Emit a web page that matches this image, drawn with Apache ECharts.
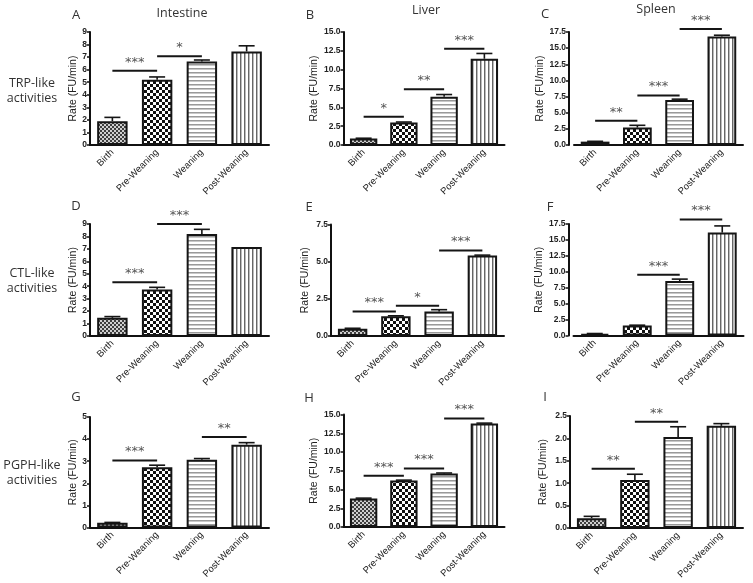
<!DOCTYPE html>
<html><head><meta charset="utf-8">
<script src="https://cdn.jsdelivr.net/npm/echarts@6/dist/echarts.min.js"></script>
<style>html,body{margin:0;padding:0;background:#fff}#c{width:753px;height:583px}</style>
</head><body><div id="c"></div>
<script>
// ---------- data ----------
const categories = ['Birth', 'Pre-Weaning', 'Weaning', 'Post-Weaning'];
const tissues = ['Intestine', 'Liver', 'Spleen'];
const activities = ['TRP-like\nactivities', 'CTL-like\nactivities', 'PGPH-like\nactivities'];
const panelLetters = ['A', 'B', 'C', 'D', 'E', 'F', 'G', 'H', 'I'];
const yAxisName = 'Rate (FU/min)';

// values (mean) and upward error (SEM) per panel
const valuesA = [1.9, 5.2, 6.65, 7.45];   const errorsA = [0.3, 0.22, 0.12, 0.45];
const valuesB = [0.85, 3.0, 6.4, 11.45];  const errorsB = [0.05, 0.05, 0.3, 0.7];
const valuesC = [0.52, 2.7, 6.95, 16.8];  const errorsC = [0.05, 0.35, 0.15, 0.2];
const valuesD = [1.46, 3.73, 8.2, 7.15];  const errorsD = [0.1, 0.18, 0.37, 0];
const valuesE = [0.49, 1.33, 1.64, 5.41]; const errorsE = [0.03, 0.03, 0.13, 0.03];
const valuesF = [0.26, 1.57, 8.55, 16.15]; const errorsF = [0.05, 0.05, 0.3, 1.05];
const valuesG = [0.21, 2.73, 3.06, 3.75]; const errorsG = [0.02, 0.09, 0.06, 0.09];
const valuesH = [3.8, 6.2, 7.15, 13.8];   const errorsH = [0.05, 0.05, 0.05, 0.05];
const valuesI = [0.22, 1.07, 2.03, 2.28]; const errorsI = [0.04, 0.13, 0.23, 0.05];

// significance brackets: [fromCategory, toCategory, height (axis units), label]
const sigA = [[0, 1, 5.91, '***'], [1, 2, 7.06, '*']];
const sigB = [[0, 1, 3.74, '*'], [1, 2, 7.39, '**'], [2, 3, 12.77, '***']];
const sigC = [[0, 1, 3.74, '**'], [1, 2, 7.68, '***'], [2, 3, 17.96, '***']];
const sigD = [[0, 1, 4.31, '***'], [1, 2, 9.0, '***']];
const sigE = [[0, 1, 1.64, '***'], [1, 2, 2.04, '*'], [2, 3, 5.75, '***']];
const sigF = [[1, 2, 9.54, '***'], [2, 3, 18.19, '***']];
const sigG = [[0, 1, 3.03, '***'], [2, 3, 4.09, '**']];
const sigH = [[0, 1, 6.84, '***'], [1, 2, 7.81, '***'], [2, 3, 14.47, '***']];
const sigI = [[0, 1, 1.32, '**'], [1, 2, 2.37, '**']];

// y-axis ranges (tick labels come from these)
const yMax      = [9, 15, 17.5, 9, 7.5, 17.5, 5, 15, 2.5];
const yInterval = [1, 2.5, 2.5, 1, 2.5, 2.5, 1, 2.5, 0.5];
const yDecimals = [0, 1, 1, 0, 1, 1, 0, 1, 1];

const panelValues = [valuesA, valuesB, valuesC, valuesD, valuesE, valuesF, valuesG, valuesH, valuesI];
const panelErrors = [errorsA, errorsB, errorsC, errorsD, errorsE, errorsF, errorsG, errorsH, errorsI];
const panelSig = [sigA, sigB, sigC, sigD, sigE, sigF, sigG, sigH, sigI];

// ---------- layout ----------
const layout = [
  {left: 90, top: 32, width: 179, height: 113, off: 0, gap: 11},
  {left: 343.5, top: 32, width: 161, height: 113, off: 0, gap: 21},
  {left: 574, top: 32, width: 169, height: 113, off: 5, gap: 20},
  {left: 90, top: 224, width: 179, height: 112, off: 0, gap: 11},
  {left: 331, top: 224.5, width: 173, height: 111.5, off: 0, gap: 20},
  {left: 573.5, top: 224, width: 170, height: 111.5, off: 5, gap: 20},
  {left: 90, top: 417, width: 179, height: 110.5, off: 0, gap: 11},
  {left: 343.5, top: 414.5, width: 161, height: 112.5, off: 0, gap: 21},
  {left: 570, top: 416, width: 173, height: 112, off: 0, gap: 21}
];

// ---------- patterns ----------
function tile(w, h, draw) {
  const c = document.createElement('canvas');
  c.width = w; c.height = h;
  const g = c.getContext('2d');
  draw(g);
  return {image: c, repeat: 'repeat'};
}
const patterns = [
  tile(4, 4, g => { g.fillStyle = '#3e3e3e'; g.fillRect(0, 0, 4, 4); g.fillStyle = '#cfcfcf'; g.fillRect(0, 0, 2, 2); g.fillRect(2, 2, 2, 2); }),
  tile(6, 6, g => { g.fillStyle = '#fff'; g.fillRect(0, 0, 6, 6); g.fillStyle = '#111'; g.fillRect(0, 0, 3, 3); g.fillRect(3, 3, 3, 3); }),
  tile(4, 4, g => { g.fillStyle = '#fff'; g.fillRect(0, 0, 4, 4); g.fillStyle = '#999'; g.fillRect(0, 0, 4, 1); g.fillStyle = '#c8c8c8'; g.fillRect(0, 1, 4, 1); }),
  tile(4, 4, g => { g.fillStyle = '#fff'; g.fillRect(0, 0, 4, 4); g.fillStyle = '#666'; g.fillRect(0, 0, 1, 4); g.fillStyle = '#bbb'; g.fillRect(1, 0, 1, 4); })
];

// ---------- option ----------
const grids = [], xAxes = [], yAxes = [], series = [];
panelValues.forEach((vals, i) => {
  const L = layout[i];
  grids.push({left: L.left, top: L.top, width: L.width, height: L.height});
  xAxes.push({
    type: 'category', gridIndex: i, data: categories,
    axisLine: {lineStyle: {color: '#111', width: 2}},
    axisTick: {alignWithLabel: true, length: 4, lineStyle: {color: '#111', width: 1.5}},
    axisLabel: {rotate: 45, interval: 0, fontSize: 9.5, color: '#222', margin: 6, fontFamily: 'Liberation Sans'}
  });
  yAxes.push({
    type: 'value', gridIndex: i, min: 0, max: yMax[i], interval: yInterval[i], offset: L.off,
    axisLine: {show: true, lineStyle: {color: '#111', width: 2}},
    axisTick: {show: true, length: 3, lineStyle: {color: '#111', width: 1.5}},
    splitLine: {show: false},
    axisLabel: {fontSize: 8.5, fontWeight: 'bold', color: '#222', margin: 3, fontFamily: 'Liberation Sans',
      formatter: v => v.toFixed(yDecimals[i])},
    name: yAxisName, nameLocation: 'middle', nameGap: L.gap,
    nameTextStyle: {fontSize: 10.5, color: '#222', fontFamily: 'Liberation Sans'}
  });
  series.push({
    type: 'bar', xAxisIndex: i, yAxisIndex: i, barWidth: '68%',
    data: vals.map((v, j) => ({value: v, itemStyle: {color: patterns[j]}})),
    itemStyle: {borderColor: '#151515', borderWidth: 2},
    silent: true, z: 2
  });
  const errs = panelErrors[i];
  series.push({
    type: 'custom', xAxisIndex: i, yAxisIndex: i, z: 3, silent: true,
    data: vals.map((v, j) => [j, v, errs[j]]),
    renderItem: (params, api) => {
      const e = api.value(2);
      if (!(e > 0)) return null;
      const p0 = api.coord([api.value(0), api.value(1)]);
      const p1 = api.coord([api.value(0), api.value(1) + e]);
      const st = {stroke: '#151515', lineWidth: 1.6};
      return {type: 'group', children: [
        {type: 'line', shape: {x1: p0[0], y1: p0[1], x2: p1[0], y2: p1[1]}, style: st},
        {type: 'line', shape: {x1: p1[0] - 8, y1: p1[1], x2: p1[0] + 8, y2: p1[1]}, style: st}
      ]};
    }
  });
  const sig = panelSig[i];
  series.push({
    type: 'custom', xAxisIndex: i, yAxisIndex: i, z: 4, silent: true, clip: false,
    data: sig.map(s => [s[0], s[1], s[2]]),
    renderItem: (params, api) => {
      const a = api.coord([api.value(0), api.value(2)]);
      const b = api.coord([api.value(1), api.value(2)]);
      return {type: 'group', children: [
        {type: 'line', shape: {x1: a[0], y1: a[1], x2: b[0], y2: a[1]}, style: {stroke: '#151515', lineWidth: 2}},
        {type: 'text', style: {text: sig[params.dataIndex][3], x: (a[0] + b[0]) / 2, y: a[1] - 2,
          textAlign: 'center', textVerticalAlign: 'bottom', fill: '#555',
          font: '13px "DejaVu Sans"'}}
      ]};
    }
  });
});

const graphics = [];
const titleX = [182, 426, 656], titleY = [13, 10, 9];
tissues.forEach((t, k) => graphics.push({type: 'text', style: {text: t, x: titleX[k], y: titleY[k],
  textAlign: 'center', textVerticalAlign: 'middle', fill: '#333', font: '12.5px "Open Sans"'}}));
const letterPos = [[76, 15], [310, 15], [545, 14], [76, 206], [309, 207], [550, 207], [76, 397], [309, 398], [545, 397]];
panelLetters.forEach((l, k) => graphics.push({type: 'text', style: {text: l, x: letterPos[k][0], y: letterPos[k][1],
  textAlign: 'center', textVerticalAlign: 'middle', fill: '#333', font: '13px "Open Sans"'}}));
const rowY = [90.5, 280.5, 472.5];
activities.forEach((a, k) => graphics.push({type: 'text', style: {text: a, x: 32, y: rowY[k],
  textAlign: 'center', textVerticalAlign: 'middle', fill: '#333', font: '12.5px "Open Sans"', lineHeight: 15}}));

const chart = echarts.init(document.getElementById('c'), null, {renderer: 'canvas'});
chart.setOption({
  animation: false,
  backgroundColor: '#fff',
  grid: grids, xAxis: xAxes, yAxis: yAxes, series: series,
  graphic: graphics
});
</script></body></html>
